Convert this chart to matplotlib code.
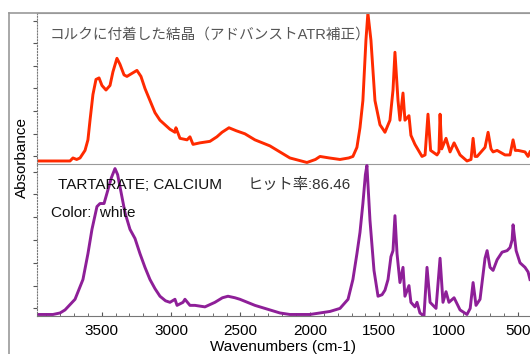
import numpy as np
import matplotlib
matplotlib.use('Agg')
import matplotlib.pyplot as plt
from matplotlib.lines import Line2D

plt.rcParams['font.family'] = ['Liberation Sans', 'Noto Sans CJK JP']

# sample: cork crystal (top)
wn_cork = [3966, 3728, 3707, 3680, 3656, 3620, 3599, 3584, 3563, 3541, 3519, 3498,
           3469, 3440, 3419, 3390, 3368, 3339, 3318, 3282, 3246, 3217, 3188, 3152,
           3116, 3080, 3044, 3008, 2972, 2965, 2936, 2885, 2864, 2842, 2792, 2720,
           2670, 2633, 2583, 2530, 2468, 2396, 2288, 2216, 2144, 2021, 1960, 1927,
           1860, 1783, 1720, 1690, 1661, 1639, 1618, 1596, 1582, 1560, 1531, 1495,
           1473, 1459, 1423, 1401, 1387, 1365, 1351, 1329, 1315, 1286, 1272, 1243,
           1192, 1170, 1149, 1130, 1084, 1070, 1062, 1050, 1019, 990, 961, 918,
           868, 839, 824, 810, 795, 738, 716, 695, 680, 651, 594, 558, 536, 520,
           500, 450, 428, 414]
abs_cork = [0.02, 0.02, 0.04, 0.03, 0.04, 0.09, 0.16, 0.29, 0.46, 0.56, 0.57, 0.52,
            0.49, 0.52, 0.61, 0.70, 0.66, 0.59, 0.58, 0.60, 0.62, 0.58, 0.50, 0.42,
            0.34, 0.29, 0.26, 0.23, 0.21, 0.24, 0.17, 0.16, 0.18, 0.13, 0.14, 0.15,
            0.18, 0.21, 0.24, 0.22, 0.20, 0.16, 0.12, 0.08, 0.04, 0.01, 0.03, 0.05,
            0.04, 0.03, 0.04, 0.05, 0.11, 0.24, 0.42, 0.82, 1.00, 0.82, 0.42, 0.26,
            0.23, 0.21, 0.29, 0.49, 0.74, 0.42, 0.29, 0.47, 0.29, 0.32, 0.19, 0.13,
            0.05, 0.06, 0.33, 0.09, 0.06, 0.08, 0.33, 0.10, 0.17, 0.08, 0.14, 0.06,
            0.02, 0.03, 0.17, 0.05, 0.05, 0.11, 0.21, 0.10, 0.08, 0.09, 0.06, 0.06,
            0.16, 0.09, 0.09, 0.08, 0.05, 0.08]

# library hit: calcium tartrate (bottom)
wn_ref = [3966, 3851, 3800, 3764, 3692, 3635, 3599, 3570, 3534, 3512, 3483, 3455,
          3430, 3404, 3385, 3368, 3332, 3296, 3260, 3224, 3188, 3152, 3116, 3080,
          3040, 3008, 2972, 2957, 2914, 2900, 2864, 2828, 2756, 2684, 2630, 2590,
          2540, 2504, 2450, 2396, 2288, 2216, 2144, 2000, 1855, 1783, 1725, 1690,
          1661, 1639, 1618, 1600, 1589, 1567, 1538, 1509, 1480, 1459, 1437, 1416,
          1401, 1387, 1372, 1351, 1329, 1315, 1286, 1272, 1243, 1228, 1207, 1178,
          1156, 1134, 1091, 1062, 1041, 1019, 998, 961, 918, 868, 845, 824, 803,
          774, 738, 723, 702, 680, 651, 615, 579, 558, 543, 536, 514, 486, 450,
          428, 414]
abs_ref = [0.01, 0.01, 0.02, 0.04, 0.11, 0.24, 0.41, 0.57, 0.72, 0.74, 0.74, 0.83,
           0.91, 0.97, 0.93, 0.85, 0.68, 0.57, 0.51, 0.41, 0.32, 0.24, 0.18, 0.13,
           0.10, 0.09, 0.11, 0.07, 0.09, 0.11, 0.07, 0.07, 0.06, 0.09, 0.12, 0.13,
           0.12, 0.11, 0.09, 0.07, 0.04, 0.02, 0.01, 0.01, 0.03, 0.05, 0.11, 0.24,
           0.41, 0.55, 0.74, 0.93, 0.99, 0.63, 0.30, 0.13, 0.14, 0.17, 0.24, 0.39,
           0.43, 0.66, 0.41, 0.22, 0.32, 0.13, 0.20, 0.09, 0.06, 0.09, 0.02, 0.00,
           0.32, 0.09, 0.05, 0.38, 0.09, 0.16, 0.09, 0.12, 0.04, 0.01, 0.05, 0.22,
           0.07, 0.11, 0.38, 0.43, 0.32, 0.30, 0.37, 0.42, 0.43, 0.45, 0.50, 0.60,
           0.43, 0.35, 0.32, 0.29, 0.24]

sample_label = 'コルクに付着した結晶（アドバンストATR補正）'
hit_name = 'TARTARATE; CALCIUM'
hit_score = 'ヒット率:86.46'
hit_color = 'Color:  white'

W, H = 530, 354
fig = plt.figure(figsize=(W / 100, H / 100), dpi=100)

left = 37 / W
ax1 = fig.add_axes([left, 1 - 164 / H, 1 - left, 151 / H])
ax2 = fig.add_axes([left, 1 - 316 / H, 1 - left, 152 / H], sharex=ax1)

ax1.plot(wn_cork, abs_cork, color='#ff2a00', lw=2.1, solid_joinstyle='round')
ax2.plot(wn_ref, abs_ref, color='#8e1f98', lw=2.1, solid_joinstyle='round')

for ax in (ax1, ax2):
    ax.patch.set_visible(False)
    ax.set_xlim(3966, 414)
    ax.set_ylim(0, 1.0)
    ax.spines['right'].set_visible(False)
    ax.spines['left'].set_linestyle(':')
    ax.spines['left'].set_color('#777777')
    ax.spines['top'].set_color('#999999')
    ax.spines['bottom'].set_color('#999999')
    ax.set_yticks(np.arange(0.05, 1.0, 0.15))
    ax.set_yticklabels([])
    ax.tick_params(axis='y', direction='out', length=3, width=0.8, color='#555555')
    ax.tick_params(axis='x', which='both', direction='in', color='#555555')
    ax.set_xticks(np.arange(500, 4000, 500))
    ax.set_xticks(np.arange(500, 4000, 100), minor=True)
    ax.tick_params(axis='x', which='major', length=3)
    ax.tick_params(axis='x', which='minor', length=2)

ax2.spines['top'].set_visible(False)
ax2.spines['bottom'].set_color('#777777')
ax1.tick_params(axis='x', which='both', labelbottom=False, bottom=False)
ax2.tick_params(axis='x', labelsize=11, pad=6)
ax2.set_xlabel('Wavenumbers (cm-1)', fontsize=11, labelpad=1)

fig.text(50 / W, 1 - 35 / H, sample_label, fontsize=10.5, color='#555555', va='center')
fig.text(58 / W, 1 - 185 / H, hit_name, fontsize=11, color='#111111', va='center')
fig.text(248 / W, 1 - 185 / H, hit_score, fontsize=11, color='#333333', va='center')
fig.text(51 / W, 1 - 213 / H, hit_color, fontsize=11, color='#111111', va='center')

fig.text(22 / W, 1 - 157 / H, 'Absorbance', rotation=90, fontsize=11,
         ha='center', va='center')

# outer frame
fig.add_artist(Line2D([9 / W, 9 / W], [0, 1 - 13 / H], color='#999999', lw=1.2))
fig.add_artist(Line2D([9 / W, 1], [1 - 13 / H, 1 - 13 / H], color='#999999', lw=1.2))

fig.savefig('out.png', dpi=100)
